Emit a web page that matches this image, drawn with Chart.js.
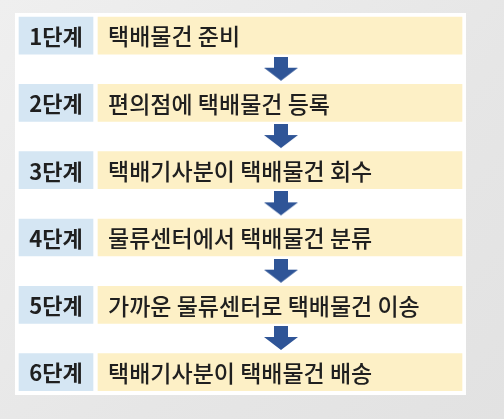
<!DOCTYPE html>
<html>
<head>
<meta charset="utf-8">
<script src="https://cdn.jsdelivr.net/npm/chart.js@4"></script>
<style>
  html, body { margin: 0; padding: 0; }
  body { width: 504px; height: 419px; background: linear-gradient(135deg, #efefef 0%, #e6e6e6 60%, #e2e2e2 100%); overflow: hidden; }
  #wrap { position: relative; width: 504px; height: 419px; }
</style>
</head>
<body>
<div id="wrap"><canvas id="flowChart"></canvas></div>
<script>
// steps of the flow
var stepLabels = ["1단계", "2단계", "3단계", "4단계", "5단계", "6단계"];
var stepTasks = [
    "택배물건 준비",
    "편의점에 택배물건 등록",
    "택배기사분이 택배물건 회수",
    "물류센터에서 택배물건 분류",
    "가까운 물류센터로 택배물건 이송",
    "택배기사분이 택배물건 배송"
];
// arrows sit between consecutive steps
var arrowPositions = [0.5, 1.5, 2.5, 3.5, 4.5];

/* --------------------------
   LAYOUT (x in panel pixels)
--------------------------- */
var labelCol = [4, 78];
var taskCol = [83, 447];
var arrowX = 266;

function makeArrow(){
    var c = document.createElement("canvas");
    c.width = 36; c.height = 25;
    var g = c.getContext("2d");
    g.fillStyle = "#2f5597";
    g.beginPath();
    g.moveTo(11, 0); g.lineTo(25, 0); g.lineTo(25, 11);
    g.lineTo(35, 11); g.lineTo(18, 24); g.lineTo(1, 11);
    g.lineTo(11, 11); g.closePath();
    g.fill();
    return c;
}

var panelBg = {
    id: "panelBg",
    beforeDraw: function(chart){
        var a = chart.chartArea, ctx = chart.ctx;
        ctx.save();
        ctx.fillStyle = "#ffffff";
        ctx.fillRect(a.left, a.top, a.right - a.left, a.bottom - a.top);
        ctx.restore();
    }
};

var boxText = {
    id: "boxText",
    afterDatasetsDraw: function(chart){
        var ctx = chart.ctx;
        ctx.save();
        ctx.textBaseline = "middle";
        ctx.fillStyle = "#1f1f1f";
        chart.getDatasetMeta(0).data.forEach(function(bar, i){
            ctx.font = "bold 22px 'Noto Sans CJK KR', 'Noto Sans', sans-serif";
            ctx.textAlign = "center";
            ctx.fillText(stepLabels[i], (bar.x + bar.base) / 2, bar.y + 1);
        });
        chart.getDatasetMeta(1).data.forEach(function(bar, i){
            ctx.font = "500 23px 'Noto Sans CJK KR', 'Noto Sans', sans-serif";
            ctx.textAlign = "left";
            ctx.fillText(stepTasks[i], Math.min(bar.x, bar.base) + 10, bar.y + 1);
        });
        ctx.restore();
    }
};

new Chart(document.getElementById("flowChart"), {
    data: {
        datasets: [{
            type: "bar",
            label: "단계",
            data: stepLabels.map(function(s, i){ return { x: labelCol, y: i }; }),
            backgroundColor: "#d5e6f3",
            barThickness: 37,
            grouped: false,
            order: 2
        }, {
            type: "bar",
            label: "내용",
            data: stepTasks.map(function(s, i){ return { x: taskCol, y: i }; }),
            backgroundColor: "#fdf0c6",
            barThickness: 37,
            grouped: false,
            order: 2
        }, {
            type: "scatter",
            label: "화살표",
            data: arrowPositions.map(function(p){ return { x: arrowX, y: p }; }),
            pointStyle: makeArrow(),
            order: 1
        }]
    },
    options: {
        indexAxis: "y",
        responsive: true,
        maintainAspectRatio: false,
        animation: false,
        layout: { padding: { left: 15, right: 38, top: 13, bottom: 24 } },
        plugins: { legend: { display: false }, tooltip: { enabled: false } },
        scales: {
            x: { type: "linear", display: false, min: 0, max: 451 },
            y: { type: "linear", display: false, offset: false, min: -0.335, max: 5.34, reverse: true }
        }
    },
    plugins: [panelBg, boxText]
});
</script>
</body>
</html>
